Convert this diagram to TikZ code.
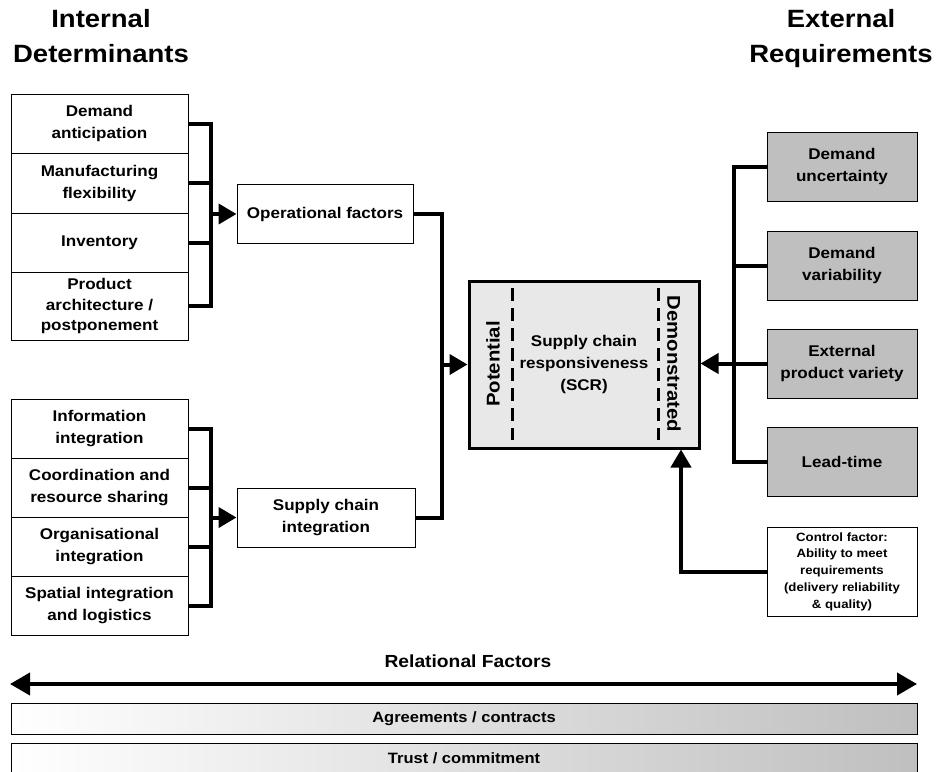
\documentclass[tikz,border=0pt]{standalone}
\usepackage{fontspec}
\setmainfont{Liberation Sans}[FakeStretch=1.1]
\usetikzlibrary{arrows.meta}
\definecolor{reqgray}{gray}{0.75}
\definecolor{scrgray}{gray}{0.91}
\tikzset{
  detbox/.style={draw, line width=1pt, fill=white, minimum width=177pt, inner ysep=0pt, align=center,
    font=\bfseries\fontsize{15.5}{22}\selectfont},
  reqbox/.style={detbox, fill=reqgray, minimum width=150pt, minimum height=69pt},
  bar/.style={draw, line width=1pt, left color=white, right color=reqgray, minimum width=906pt,
    minimum height=31pt, font=\bfseries\fontsize{15}{18}\selectfont},
  titre/.style={align=center, anchor=north, font=\bfseries\fontsize{25}{35}\selectfont},
  link/.style={line width=4pt},
  fleche/.style={link, -{Triangle[length=18pt,width=20pt]}},
}
\begin{document}
\begin{tikzpicture}[x=1pt,y=-1pt]
\useasboundingbox (0,0) rectangle (936,771);
% titres
\node[titre] (intdet) at (101,6) {Internal\\Determinants};
\node[titre] (extreq) at (841,6) {External\\Requirements};
% facteurs operationnels
\node[detbox, minimum height=59pt] (dem) at (99.5,123.5) {Demand\\anticipation};
\node[detbox, minimum height=60pt] (man) at (99.5,183) {Manufacturing\\flexibility};
\node[detbox, minimum height=59pt] (inv) at (99.5,242.5) {Inventory};
\node[detbox, minimum height=68pt, font=\bfseries\fontsize{15.5}{20.5}\selectfont] (prod) at (99.5,306) {Product\\architecture /\\postponement};
\node[detbox, minimum width=176pt, minimum height=59pt] (opf) at (325,214) {Operational factors};
% integration
\node[detbox, minimum height=59pt] (info) at (99.5,428.5) {Information\\integration};
\node[detbox, minimum height=59pt] (coord) at (99.5,487.5) {Coordination and\\resource sharing};
\node[detbox, minimum height=59pt] (org) at (99.5,546.5) {Organisational\\integration};
\node[detbox, minimum height=59pt] (spat) at (99.5,605.5) {Spatial integration\\and logistics};
\node[detbox, minimum width=178pt, minimum height=59pt] (sci) at (326,517.5) {Supply chain\\integration};
% SCR
\node[detbox, line width=3pt, fill=scrgray, minimum width=230pt, minimum height=167pt] (scr) at (584,364.5) {Supply chain\\responsiveness\\(SCR)};
\draw[line width=3pt, dash pattern=on 13pt off 7pt] (512,288) -- (512,440);
\draw[line width=3pt, dash pattern=on 13pt off 7pt] (658,288) -- (658,440);
\node[rotate=90, font=\bfseries\fontsize{18.5}{22}\selectfont] (pot) at (493,364) {Potential};
\node[rotate=-90, font=\bfseries\fontsize{18.5}{22}\selectfont] (demo) at (674,364) {Demonstrated};
% exigences externes
\node[reqbox] (unc) at (842,166.5) {Demand\\uncertainty};
\node[reqbox] (var) at (842,265.5) {Demand\\variability};
\node[reqbox] (ext) at (842,363.5) {External\\product variety};
\node[reqbox] (lead) at (842,461.5) {Lead-time};
\node[detbox, minimum width=150pt, minimum height=89pt, font=\bfseries\fontsize{12}{16.7}\selectfont] (ctrl) at (842,571.5) {Control factor:\\Ability to meet\\requirements\\(delivery reliability\\\& quality)};
% liaisons
\coordinate (brL) at (211,0);
\coordinate (brM) at (442,0);
\coordinate (brR) at (734,0);
\coordinate (brC) at (681,0);
\draw[link] (dem.east) -| (brL |- prod.east) -- (prod.east);
\draw[link] (man.east) -- (man.east -| brL);
\draw[link] (inv.east) -- (inv.east -| brL);
\draw[fleche] (brL |- opf.west) -- (opf.west);
\draw[link] (info.east) -| (brL |- spat.east) -- (spat.east);
\draw[link] (coord.east) -- (coord.east -| brL);
\draw[link] (org.east) -- (org.east -| brL);
\draw[fleche] (brL |- sci.west) -- (sci.west);
\draw[link] (opf.east) -| (brM |- sci.east) -- (sci.east);
\draw[fleche] (brM |- scr.west) -- (scr.west);
\draw[link] (unc.west) -| (brR |- lead.west) -- (lead.west);
\draw[link] (var.west) -- (var.west -| brR);
\draw[fleche] (ext.west) -- (scr.east |- ext.west);
\draw[fleche] (ctrl.west) -| (brC |- scr.south);
% facteurs relationnels
\node[font=\bfseries\fontsize{17.5}{20}\selectfont] (rel) at (468,661) {Relational Factors};
\coordinate (relL) at (10,684);
\coordinate (relR) at (917,684);
\draw[link, {Triangle[length=20pt,width=22pt]}-{Triangle[length=20pt,width=22pt]}] (relL) -- (relR);
\node[bar] (agr) at (464,718.5) {Agreements / contracts};
\node[bar] (trust) at (464,758.5) {Trust / commitment};
\end{tikzpicture}
\end{document}
